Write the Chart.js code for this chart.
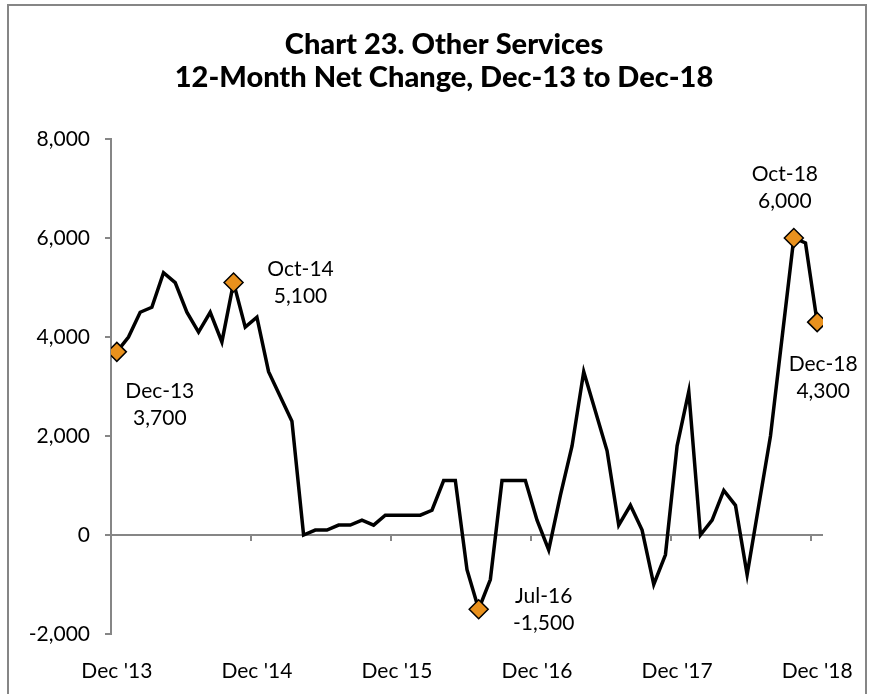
<!DOCTYPE html>
<html>
<head>
<meta charset="utf-8">
<script src="https://cdn.jsdelivr.net/npm/chart.js@4"></script>
<style>
  body { margin: 0; background: #fff; }
  #chart { display: block; }
</style>
</head>
<body>
<canvas id="chart" width="870" height="694"></canvas>
<script>
const monthNames = ["Jan", "Feb", "Mar", "Apr", "May", "Jun", "Jul", "Aug", "Sep", "Oct", "Nov", "Dec"];

// Dec-13 .. Dec-18, one entry per month
const months = [];
for (let i = 0; i < 61; i++) {
  const m = (11 + i) % 12;
  const yy = 13 + Math.floor((11 + i) / 12);
  months.push(monthNames[m] + "-" + yy);
}

const netChange = [
  3700, 4000, 4500, 4600, 5300, 5100, 4500, 4100, 4500, 3900, 5100, 4200,
  4400, 3300, 2800, 2300, 0, 100, 100, 200, 200, 300, 200, 400,
  400, 400, 400, 500, 1100, 1100, -700, -1500, -900, 1100, 1100, 1100,
  300, -300, 800, 1800, 3300, 2500, 1700, 200, 600, 100, -1000, -400,
  1800, 2900, 0, 300, 900, 600, -800, 600, 2000, 4000, 6000, 5900,
  4300
];

const yTicks = [-2000, 0, 2000, 4000, 6000, 8000];
const xTickIdx = [0, 12, 24, 36, 48, 60];
const xTickLabels = ["Dec '13", "Dec '14", "Dec '15", "Dec '16", "Dec '17", "Dec '18"];
const highlights = [0, 10, 31, 58, 60];
const titleLines = ["Chart 23. Other Services", "12-Month Net Change, Dec-13 to Dec-18"];

const FONT = "Lato, 'Noto Sans', sans-serif";
const AXIS_GRAY = "#868686";

// where each callout sits relative to its marker (dx, dy of first line)
const calloutOffsets = {
  0: [43, 39],
  10: [67, -13],
  31: [65, -13],
  58: [-9, -64],
  60: [6, 42]
};

const decorations = {
  id: "decorations",
  beforeDraw(chart) {
    const ctx = chart.ctx;
    ctx.save();
    ctx.strokeStyle = AXIS_GRAY;
    ctx.lineWidth = 2;
    ctx.beginPath();
    ctx.moveTo(8, 700);
    ctx.lineTo(8, 5);
    ctx.lineTo(866, 5);
    ctx.lineTo(866, 700);
    ctx.stroke();

    // two-line heading, centred over the plot
    ctx.fillStyle = "#000";
    ctx.font = "900 29px " + FONT;
    ctx.textAlign = "center";
    ctx.textBaseline = "middle";
    titleLines.forEach((t, i) => ctx.fillText(t, 444, 45 + i * 33));
    ctx.restore();
  },
  beforeDatasetsDraw(chart) {
    // zero line with month-boundary tick marks
    const { ctx, chartArea, scales } = chart;
    const y0 = Math.round(scales.y.getPixelForValue(0));
    ctx.save();
    ctx.strokeStyle = AXIS_GRAY;
    ctx.lineWidth = 2;
    ctx.beginPath();
    ctx.moveTo(chartArea.left, y0);
    ctx.lineTo(chartArea.right, y0);
    xTickIdx.slice(1).forEach(i => {
      const x = Math.round(scales.x.getPixelForValue(i - 0.5));
      ctx.moveTo(x, y0);
      ctx.lineTo(x, y0 + 6);
    });
    ctx.stroke();
    ctx.restore();
  },
  afterDatasetsDraw(chart) {
    const ctx = chart.ctx;
    const meta = chart.getDatasetMeta(0);
    ctx.save();
    ctx.fillStyle = "#000";
    ctx.font = "21px " + FONT;
    ctx.textAlign = "center";
    ctx.textBaseline = "middle";
    highlights.forEach(i => {
      const pt = meta.data[i];
      const [dx, dy] = calloutOffsets[i];
      ctx.fillText(months[i], pt.x + dx, pt.y + dy);
      ctx.fillText(netChange[i].toLocaleString("en-US"), pt.x + dx, pt.y + dy + 27);
    });
    ctx.restore();
  }
};

new Chart(document.getElementById("chart"), {
  type: "line",
  data: {
    labels: months,
    datasets: [{
      data: netChange.map((v, i) => ({ x: i, y: v })),
      borderColor: "#000",
      borderWidth: 3.5,
      tension: 0,
      pointStyle: "rectRot",
      pointRadius: ctx => highlights.includes(ctx.dataIndex) ? 9.5 : 0,
      pointHoverRadius: ctx => highlights.includes(ctx.dataIndex) ? 9.5 : 0,
      pointBackgroundColor: "#E9911D",
      pointBorderColor: "#000",
      pointBorderWidth: 1.5
    }]
  },
  options: {
    responsive: false,
    animation: false,
    layout: { padding: { left: 18, right: 43, top: 139, bottom: 0 } },
    plugins: {
      legend: { display: false },
      tooltip: { enabled: false },
      title: { display: false }
    },
    scales: {
      x: {
        type: "linear",
        min: -0.5,
        max: 60.5,
        afterBuildTicks: scale => { scale.ticks = xTickIdx.map(v => ({ value: v })); },
        afterFit: scale => { scale.height = 60; },
        grid: { display: false },
        border: { display: false },
        ticks: {
          autoSkip: false,
          maxRotation: 0,
          padding: 17,
          color: "#000",
          font: { family: FONT, size: 21 },
          callback: (v, i) => xTickLabels[i]
        }
      },
      y: {
        min: -2000,
        max: 8000,
        afterBuildTicks: scale => { scale.ticks = yTicks.map(v => ({ value: v })); },
        afterFit: scale => { scale.width = 93; },
        grid: {
          drawOnChartArea: false,
          drawTicks: true,
          tickLength: 6,
          color: AXIS_GRAY,
          lineWidth: 2
        },
        border: { display: true, color: AXIS_GRAY, width: 2 },
        ticks: {
          padding: 15,
          color: "#000",
          font: { family: FONT, size: 21 },
          callback: v => v.toLocaleString("en-US")
        }
      }
    }
  },
  plugins: [decorations]
});
</script>
</body>
</html>
